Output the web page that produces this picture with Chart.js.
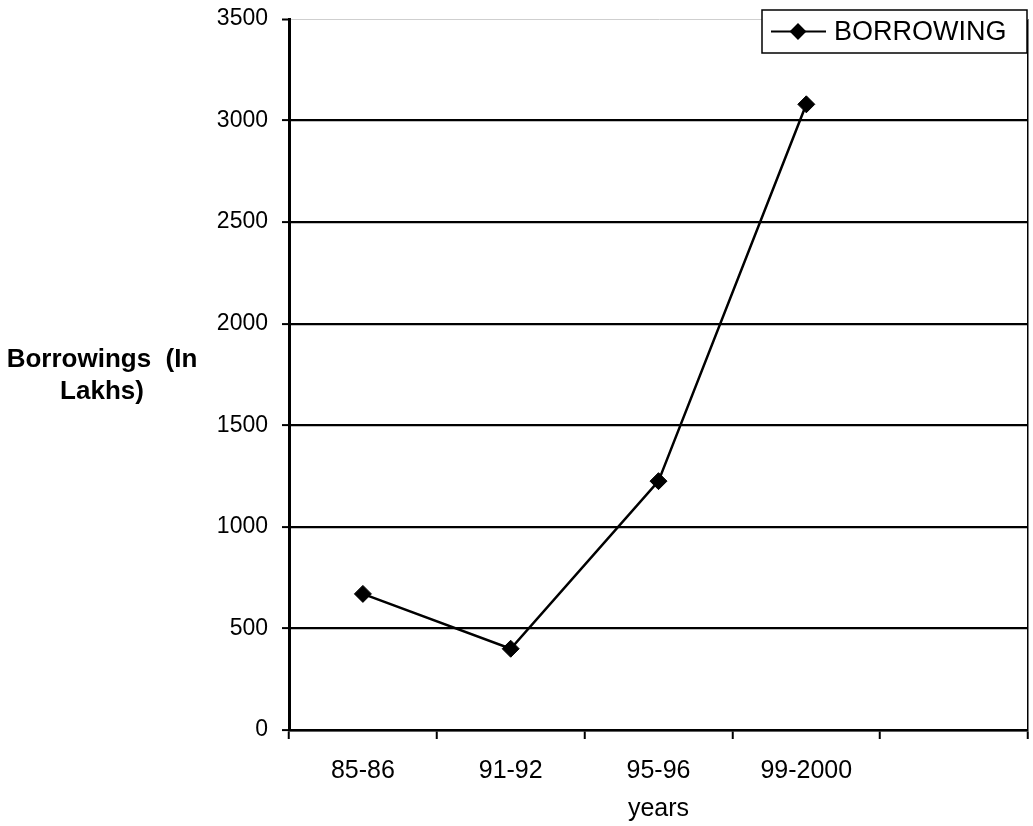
<!DOCTYPE html>
<html>
<head>
<meta charset="utf-8">
<script src="https://cdn.jsdelivr.net/npm/chart.js@4/dist/chart.umd.min.js"></script>
<style>
  html, body { margin: 0; padding: 0; background: #fff; }
  #wrap { width: 1033px; height: 826px; }
</style>
</head>
<body>
<div id="wrap"><canvas id="c" width="1033" height="826"></canvas></div>
<script>
const categories = ['85-86', '91-92', '95-96', '99-2000', ''];
const borrowing = [670, 400, 1225, 3080, null];
const seriesName = 'BORROWING';
const yTitleLines = ['Borrowings  (In', 'Lakhs)'];
const xTitle = 'years';
const yMin = 0, yMax = 3500, yStep = 500;

const FONT = "'Liberation Sans', Arial, Helvetica, sans-serif";

const extras = {
  id: 'extras',
  afterDraw(chart) {
    const ctx = chart.ctx;
    const a = chart.chartArea;
    ctx.save();
    // y axis title (horizontal, bold)
    ctx.fillStyle = '#000';
    ctx.font = 'bold 26px ' + FONT;
    ctx.textAlign = 'center';
    ctx.textBaseline = 'middle';
    ctx.fillText(yTitleLines[0], 102, 360);
    ctx.fillText(yTitleLines[1], 102, 392);
    // legend box
    const bx = a.right - 266, by = a.top - 9, bw = 265, bh = 43;
    ctx.fillStyle = '#fff';
    ctx.fillRect(bx, by, bw, bh);
    ctx.strokeStyle = '#000';
    ctx.lineWidth = 1.5;
    ctx.strokeRect(bx, by, bw, bh);
    const my = by + bh / 2;
    ctx.lineWidth = 2;
    ctx.beginPath();
    ctx.moveTo(bx + 9, my);
    ctx.lineTo(bx + 64, my);
    ctx.stroke();
    Chart.helpers.drawPoint(ctx, {pointStyle: 'rectRot', radius: 7, borderWidth: 1}, bx + 36, my);
    ctx.fillStyle = '#000';
    ctx.fill();
    ctx.font = '27px ' + FONT;
    ctx.textAlign = 'left';
    ctx.textBaseline = 'middle';
    ctx.fillText(seriesName, bx + 72, my + 1);
    ctx.restore();
  }
};

new Chart(document.getElementById('c'), {
  type: 'line',
  data: {
    labels: categories,
    datasets: [{
      label: seriesName,
      data: borrowing,
      borderColor: '#000',
      backgroundColor: '#000',
      borderWidth: 2.5,
      pointStyle: 'rectRot',
      pointRadius: 8.5,
      pointBackgroundColor: '#000',
      pointBorderColor: '#000',
      pointBorderWidth: 1,
      tension: 0,
      fill: false,
      spanGaps: false
    }]
  },
  options: {
    responsive: false,
    animation: false,
    devicePixelRatio: 1,
    layout: { autoPadding: false, padding: { left: 0, top: 19, right: 5, bottom: 0 } },
    plugins: {
      legend: { display: false },
      tooltip: { enabled: false },
      title: { display: false }
    },
    scales: {
      x: {
        type: 'category',
        offset: true,
        afterFit(scale) {
          scale.height = 96;
          scale.paddingLeft = 0; scale.paddingRight = 0;
        },
        grid: {
          offset: true,
          drawOnChartArea: true,
          drawTicks: true,
          tickLength: 9,
          tickColor: '#000',
          tickWidth: 2,
          lineWidth: 1.5,
          color: (ctx) => ctx.type === 'tick' ? 'rgba(0,0,0,0)' : '#000'
        },
        border: { display: true, color: '#000', width: 2.5 },
        ticks: {
          color: '#000',
          font: { family: FONT, size: 25 },
          padding: 17,
          maxRotation: 0,
          autoSkip: false
        },
        title: {
          display: true,
          text: xTitle,
          color: '#000',
          font: { family: FONT, size: 25 },
          padding: { top: 0, bottom: 2 }
        }
      },
      y: {
        min: yMin,
        max: yMax,
        afterFit(scale) {
          scale.width = 289;
          scale.paddingTop = 0; scale.paddingBottom = 0;
        },
        grid: {
          drawTicks: true,
          tickLength: 7,
          tickColor: '#000',
          tickWidth: 2,
          lineWidth: (ctx) => ctx.tick && ctx.tick.value === yMax ? 1 : 2.2,
          color: (ctx) => ctx.tick && ctx.tick.value === yMax ? '#cfcfcf' : '#000'
        },
        border: { display: true, color: '#000', width: 3 },
        ticks: {
          stepSize: yStep,
          color: '#000',
          font: { family: FONT, size: 23 },
          padding: 14,
          callback: (v) => String(v)
        }
      }
    }
  },
  plugins: [extras]
});
</script>
</body>
</html>
